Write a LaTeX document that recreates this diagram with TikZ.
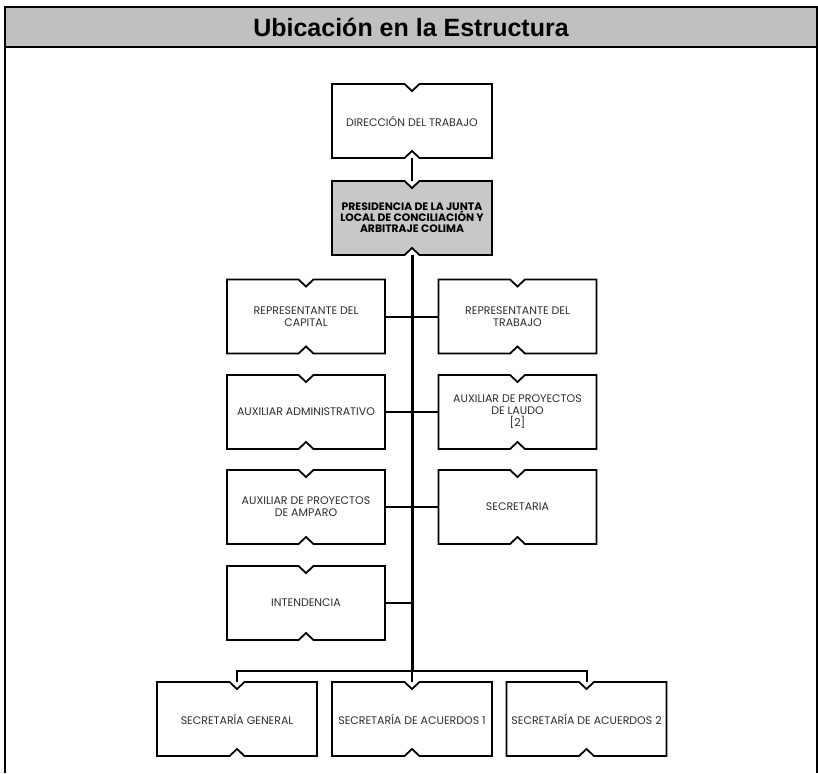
\documentclass[tikz,border=0pt]{standalone}
\usepackage{fontspec}
\setmainfont{Liberation Sans}
\newfontfamily\orgfont{Poppins}
\usetikzlibrary{calc,backgrounds}

\definecolor{bandgray}{RGB}{192,192,192}
\definecolor{headgray}{RGB}{200,200,200}
\definecolor{orgtext}{RGB}{45,45,45}

\tikzset{
  orgbox/.style={rectangle, draw=none, inner sep=0pt, outer sep=0pt,
    minimum width=158pt, minimum height=74pt, align=center, text=orgtext,
    font=\orgfont\fontsize{11}{12}\selectfont},
  widebox/.style={orgbox, minimum width=160pt},
  headbox/.style={widebox, text=black,
    font=\orgfont\bfseries\fontsize{10.8}{11}\selectfont},
  boxline/.style={line width=1.8pt, line join=miter},
  frameline/.style={line width=2pt},
  link/.style={line width=2pt},
  trunk/.style={line width=3pt},
}

% outline of a box with a V notch at the middle of its top and bottom edges
\newcommand\notchedbox[2]{%
  \filldraw[boxline, fill=#2]
    (#1.north west) -- ($(#1.north)+(-7.5,0)$) -- ($(#1.north)+(0,7)$)
    -- ($(#1.north)+(7.5,0)$) -- (#1.north east) -- (#1.south east)
    -- ($(#1.south)+(7.5,0)$) -- ($(#1.south)+(0,-7)$)
    -- ($(#1.south)+(-7.5,0)$) -- (#1.south west) -- cycle;
}

\begin{document}
\begin{tikzpicture}[x=1pt,y=-1pt]
  \useasboundingbox (0,0) rectangle (818,773);

  % frame and title band
  \fill[bandgray] (5,7) rectangle (817,47);
  \draw[frameline] (5,773) -- (5,7) -- (817,7) -- (817,773);
  \draw[frameline] (5,47) -- (817,47);
  \node (title) at (411,27)
    {\bfseries\fontsize{25}{29}\selectfont Ubicación en la Estructura};

  % boxes
  \node[widebox] (dir) at (412,121) {DIRECCIÓN DEL TRABAJO};
  \node[headbox] (pres) at (412,218)
    {PRESIDENCIA DE LA JUNTA\\LOCAL DE CONCILIACIÓN Y\\ARBITRAJE COLIMA};

  \node[orgbox] (rcap) at (306,316.5) {REPRESENTANTE DEL\\CAPITAL};
  \node[orgbox] (rtra) at (517.5,316.5) {REPRESENTANTE DEL\\TRABAJO};
  \node[orgbox] (aadm) at (306,412) {AUXILIAR ADMINISTRATIVO};
  \node[orgbox] (alau) at (517.5,412) {AUXILIAR DE PROYECTOS\\DE LAUDO\\{[2]}};
  \node[orgbox] (aamp) at (306,507) {AUXILIAR DE PROYECTOS\\DE AMPARO};
  \node[orgbox] (secr) at (517.5,507) {SECRETARIA};
  \node[orgbox] (inte) at (306,603) {INTENDENCIA};

  \node[widebox] (sgen) at (237,719) {SECRETARÍA GENERAL};
  \node[widebox] (sac1) at (412,719) {SECRETARÍA DE ACUERDOS 1};
  \node[widebox] (sac2) at (586.5,719) {SECRETARÍA DE ACUERDOS 2};

  \begin{scope}[on background layer]
    \foreach \n in {dir,rcap,rtra,aadm,alau,aamp,secr,inte,sgen,sac1,sac2}
      {\notchedbox{\n}{white}}
    \notchedbox{pres}{headgray}
  \end{scope}

  % connectors
  \coordinate (bus) at (pres.south |- 0,671);
  \draw[link] (dir.south) -- (pres.north);
  \draw[trunk] (pres.south) -- (bus);
  \draw[link] (rcap.east) -- (rtra.west);
  \draw[link] (aadm.east) -- (alau.west);
  \draw[link] (aamp.east) -- (secr.west);
  \draw[link] (inte.east) -- (inte.east -| bus);
  \draw[link] (sgen.north) -- (sgen.north |- bus) -- (sac2.north |- bus) -- (sac2.north);
  \draw[link] (bus) -- (sac1.north);
\end{tikzpicture}
\end{document}
